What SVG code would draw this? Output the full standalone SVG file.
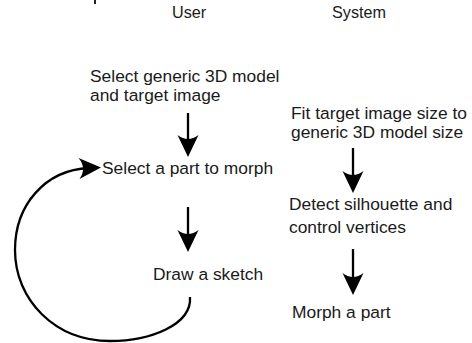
<svg xmlns="http://www.w3.org/2000/svg" width="472" height="343" viewBox="0 0 472 343">
  <style>
    .t { font-family: "Liberation Sans", Arial, sans-serif; font-size: 17.4px; fill: #1a1a1a; }
    .h { font-family: "Liberation Sans", Arial, sans-serif; font-size: 16.2px; fill: #1a1a1a; }
    .c { fill: none; stroke: #000; stroke-width: 2.3; }
  </style>
  <defs>
    <marker id="ah" markerUnits="userSpaceOnUse" viewBox="-23 -12 24 24" refX="-12" refY="0" markerWidth="24" markerHeight="24" orient="auto">
      <path d="M0,0 L-22,-10.5 Q-14,0 -22,10.5 Z" fill="#000"/>
    </marker>
  </defs>
  <rect x="0" y="0" width="472" height="343" fill="#ffffff"/>
  <rect x="94" y="0" width="2" height="4" fill="#222"/>

  <g id="header-user"><text class="h" x="172" y="18">User</text></g>
  <g id="header-system"><text class="h" x="332" y="18">System</text></g>

  <g id="select-model">
    <text class="t" x="90" y="81.5">Select generic 3D model</text>
    <text class="t" x="90" y="100.5">and target image</text>
  </g>
  <g id="select-part"><text class="t" x="102" y="173.5">Select a part to morph</text></g>
  <g id="draw-sketch"><text class="t" x="153" y="279.5">Draw a sketch</text></g>
  <g id="fit-size">
    <text class="t" x="291" y="118.5">Fit target image size to</text>
    <text class="t" x="291" y="138">generic 3D model size</text>
  </g>
  <g id="detect">
    <text class="t" x="289" y="210">Detect silhouette and</text>
    <text class="t" x="289" y="232.5">control vertices</text>
  </g>
  <g id="morph"><text class="t" x="292" y="318">Morph a part</text></g>

  <g id="connectors">
    <line class="c" x1="188" y1="113" x2="188" y2="145" marker-end="url(#ah)"/>
    <line class="c" x1="188" y1="207" x2="188" y2="240" marker-end="url(#ah)"/>
    <line class="c" x1="353" y1="148" x2="353" y2="181" marker-end="url(#ah)"/>
    <line class="c" x1="353" y1="249" x2="353" y2="283" marker-end="url(#ah)"/>
    <path class="c" d="M190,297 C192,325 150,341 110,341 C55,341 15,300 15,250 C15,205 45,170 89,168" marker-end="url(#ah)"/>
  </g>
</svg>
